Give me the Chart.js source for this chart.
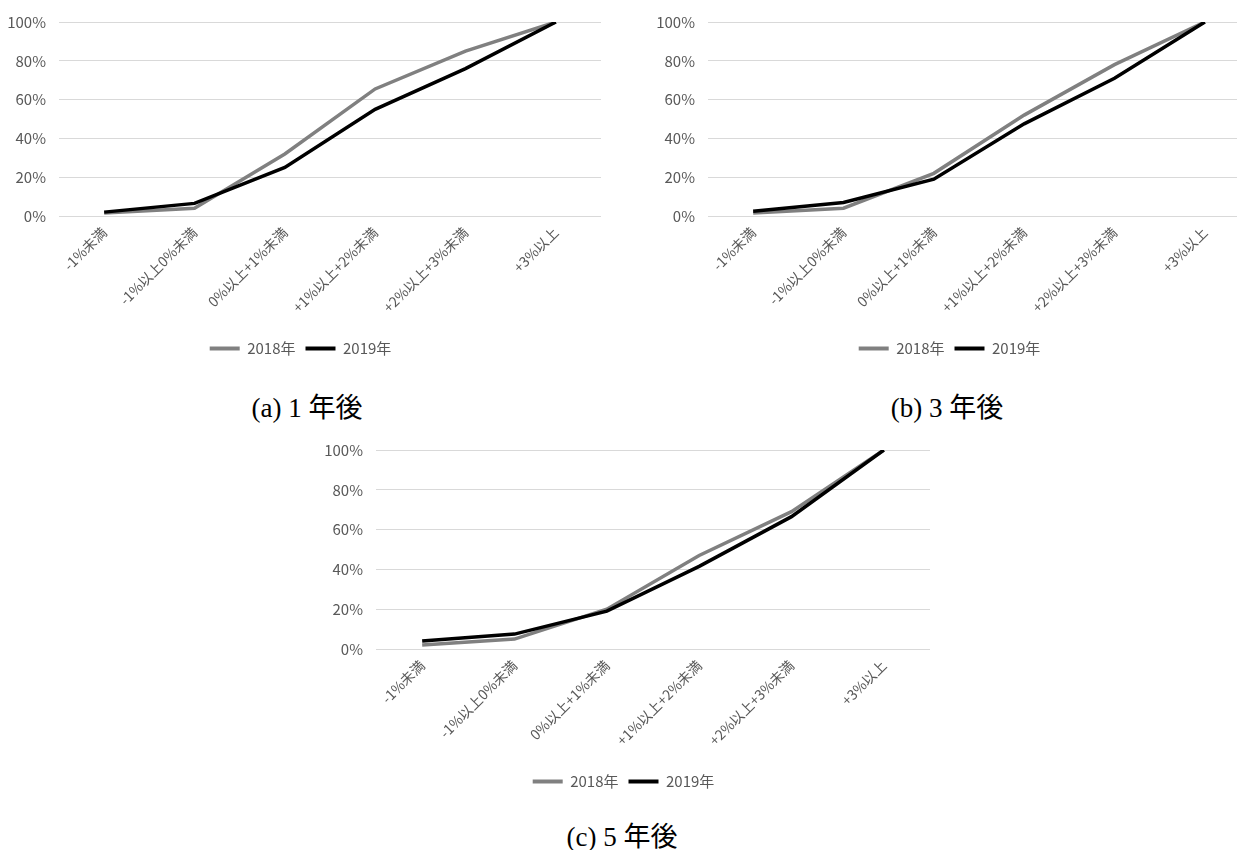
<!DOCTYPE html>
<html lang="ja">
<head>
    <meta charset="UTF-8">
    <title>累積分布</title>
    <script src="https://cdn.jsdelivr.net/npm/chart.js@4.4.1/dist/chart.umd.min.js"></script>
    <style>
        html, body {
            margin: 0;
            padding: 0;
            background: #fff;
            overflow: hidden;
            width: 1237px;
            height: 850px;
        }

        canvas {
            position: absolute;
        }

        #chartA { left: 0px;   top: 0px; }
        #chartB { left: 649px; top: 0px; }
        #chartC { left: 317px; top: 428px; }

        .caption {
            position: absolute;
            font-family: "Liberation Serif", "Noto Sans CJK JP", serif;
            font-size: 27px;
            color: #000;
            white-space: nowrap;
            transform: translate(-50%, -50%);
        }
    </style>
</head>
<body>

    <canvas id="chartA" width="620" height="366"></canvas>
    <canvas id="chartB" width="620" height="366"></canvas>
    <canvas id="chartC" width="632" height="371"></canvas>

    <div class="caption" style="left: 307px; top: 405px;">(a) 1 年後</div>
    <div class="caption" style="left: 947px; top: 405px;">(b) 3 年後</div>
    <div class="caption" style="left: 622px; top: 834px;">(c) 5 年後</div>

<script>

var categories = ['-1%未満', '-1%以上0%未満', '0%以上+1%未満', '+1%以上+2%未満', '+2%以上+3%未満', '+3%以上'];
var seriesNames = ['2018年', '2019年'];
var yTicks = [0, 20, 40, 60, 80, 100];

// cumulative share (%) per category
var after1y2018 = [1.5, 4, 32, 65.5, 85, 100];
var after1y2019 = [2, 6.5, 25, 55, 76, 100];
var after3y2018 = [1.5, 4, 22, 52, 78, 100];
var after3y2019 = [2.5, 7, 19, 47.5, 71, 100];
var after5y2018 = [2, 5, 20, 47, 69, 100];
var after5y2019 = [4, 7.5, 19, 41.5, 66.5, 100];

var FONT = "'Noto Sans CJK JP', 'Noto Sans', sans-serif";
var TEXT_COLOR = '#595959';
var GRID_COLOR = '#d9d9d9';

function makeChart(id, data2018, data2019) {
    var ctx = document.getElementById(id).getContext('2d');
    return new Chart(ctx, {
        type: 'line',
        data: {
            labels: categories,
            datasets: [{
                label: seriesNames[0],
                data: data2018,
                borderColor: '#808080',
                backgroundColor: '#808080',
                borderWidth: 3.5,
                pointRadius: 0,
                tension: 0,
                order: 1,
            }, {
                label: seriesNames[1],
                data: data2019,
                borderColor: '#000000',
                backgroundColor: '#000000',
                borderWidth: 3.5,
                pointRadius: 0,
                tension: 0,
                order: 0,
            }]
        },
        options: {
            responsive: false,
            animation: false,
            layout: {
                padding: { top: 21, right: 19, bottom: 0, left: 0 }
            },
            scales: {
                x: {
                    offset: true,
                    grid: { display: false, drawTicks: false },
                    border: { display: false },
                    ticks: {
                        color: TEXT_COLOR,
                        font: { family: FONT, size: 14 },
                        minRotation: 45,
                        maxRotation: 45,
                        padding: 8,
                    },
                    afterFit: function (scale) { scale.height = 115; }
                },
                y: {
                    min: 0,
                    max: 100,
                    afterBuildTicks: function (scale) {
                        scale.ticks = yTicks.map(function (v) { return { value: v }; });
                    },
                    grid: { color: GRID_COLOR, lineWidth: 1, drawTicks: false },
                    border: { display: false },
                    ticks: {
                        color: TEXT_COLOR,
                        font: { family: FONT, size: 15 },
                        padding: 13,
                        callback: function (v) { return v + '%'; }
                    },
                    afterFit: function (scale) { scale.width = 59; }
                }
            },
            plugins: {
                tooltip: { enabled: false },
                legend: {
                    position: 'bottom',
                    labels: {
                        color: TEXT_COLOR,
                        font: { family: FONT, size: 15 },
                        boxWidth: 30,
                        boxHeight: 4,
                        padding: 10,
                        sort: function (a, b) { return a.datasetIndex - b.datasetIndex; },
                        generateLabels: function (chart) {
                            var items = Chart.defaults.plugins.legend.labels.generateLabels(chart);
                            items.forEach(function (it) { it.lineWidth = 0; });
                            return items;
                        }
                    }
                }
            }
        }
    });
}

makeChart('chartA', after1y2018, after1y2019);
makeChart('chartB', after3y2018, after3y2019);
makeChart('chartC', after5y2018, after5y2019);

</script>

</body>
</html>
